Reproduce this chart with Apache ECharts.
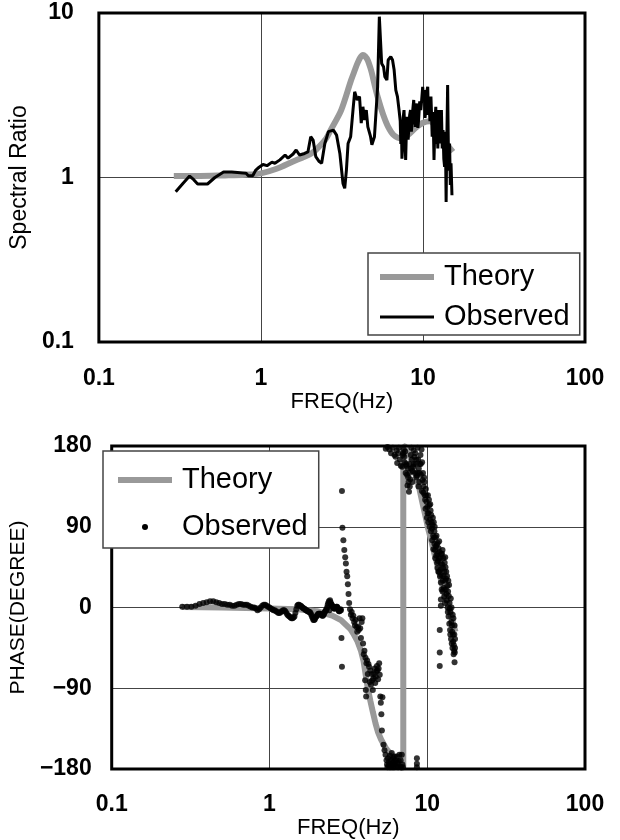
<!DOCTYPE html>
<html>
<head>
<meta charset="utf-8">
<script src="https://cdn.jsdelivr.net/npm/echarts@6/dist/echarts.min.js"></script>
<style>
  html, body { margin: 0; padding: 0; background: #fff; }
  #chart { width: 620px; height: 840px; }
</style>
</head>
<body>
<div id="chart"></div>
<script>
// ---------- Tick labels ----------
const freqTickLabels = ['0.1', '1', '10', '100'];
const ratioTickLabels = ['0.1', '1', '10'];
const phaseTickLabels = ['\u2212180', '\u221290', '0', '90', '180'];

// ---------- Spectral ratio: theory ----------
const ampTheoryFreq = [0.29, 0.4, 0.6, 0.8, 1.0, 1.25, 1.58, 1.8, 2.0, 2.18, 2.5, 2.73, 3.13, 3.6, 3.8, 3.94, 4.1, 4.26, 4.4, 4.57, 4.75, 4.9, 5.05, 5.25, 5.65, 6.1, 6.6, 7.3, 8.0, 9.0, 10.0, 11.0, 12.0, 13.0, 14.0, 15.3];
const ampTheory = [1.02, 1.02, 1.03, 1.04, 1.06, 1.13, 1.25, 1.32, 1.38, 1.47, 1.7, 1.99, 2.57, 3.9, 4.5, 4.94, 5.35, 5.55, 5.45, 5.15, 4.6, 4.1, 3.6, 3.1, 2.45, 2.03, 1.81, 1.73, 1.8, 2.0, 2.15, 2.2, 2.05, 1.8, 1.6, 1.43];

// ---------- Spectral ratio: observed ----------
const ampObsFreq = [0.298, 0.33, 0.363, 0.385, 0.407, 0.468, 0.52, 0.588, 0.66, 0.673, 0.81, 0.836, 0.89, 0.93, 0.97, 1.03, 1.09, 1.17, 1.22, 1.31, 1.41, 1.47, 1.58, 1.65, 1.73, 1.86, 1.95, 2.03, 2.10, 2.18, 2.29, 2.37, 2.48, 2.61, 2.80, 2.93, 3.07, 3.21, 3.29, 3.37, 3.45, 3.58, 3.70, 3.79, 3.93, 4.06, 4.16, 4.26, 4.36, 4.47, 4.57, 4.75, 4.84, 5.02, 5.13, 5.25, 5.38, 5.50, 5.56, 5.71, 5.82, 5.99, 6.10, 6.33, 6.49, 6.64, 6.80, 6.96,
  7.12, 7.24, 7.30, 7.36, 7.42, 7.47, 7.55, 7.64, 7.72, 7.82, 7.90, 8.00, 8.10, 8.19, 8.28, 8.38, 8.48, 8.57, 8.66, 8.77, 8.87, 8.97, 9.08, 9.18, 9.30, 9.40, 9.55, 9.70, 9.83, 9.96, 10.1, 10.2, 10.3, 10.4, 10.55, 10.7, 10.8, 10.9, 11.05, 11.2, 11.3, 11.4, 11.55, 11.7, 11.85, 12.0, 12.1, 12.2, 12.35, 12.5, 12.6, 12.7, 12.85, 13.0, 13.15, 13.3, 13.45, 13.6, 13.75, 13.9, 14.0, 14.2, 14.4, 14.6, 14.75, 14.9, 15.1];
const ampObs = [0.82, 0.92, 1.02, 0.97, 0.913, 0.913, 1.0, 1.08, 1.08, 1.06, 1.06, 1.025, 1.025, 1.11, 1.15, 1.20, 1.18, 1.24, 1.22, 1.28, 1.37, 1.31, 1.39, 1.47, 1.37, 1.40, 1.43, 1.77, 1.69, 1.34, 1.25, 1.22, 1.61, 1.90, 1.94, 1.81, 1.40, 0.92, 0.86, 1.11, 1.61, 1.77, 2.57, 3.32, 2.96, 3.10, 2.14, 2.69, 2.24, 2.57, 2.03, 1.77, 1.58, 1.77, 1.77, 3.56, 9.5, 9.5, 4.94, 4.72, 4.10, 3.91, 5.18, 5.43, 5.18, 4.50, 3.40, 3.10,
  2.57, 2.2, 1.6, 2.14, 1.3, 1.47, 2.3, 2.57, 1.9, 1.28, 1.9, 2.34, 1.7, 2.03, 2.4, 2.57, 1.9, 2.14, 2.6, 2.96, 2.3, 2.03, 2.5, 2.82, 2.0, 2.24, 2.9, 2.57, 3.0, 3.56, 2.9, 3.40, 2.3, 2.57, 3.3, 3.56, 2.4, 2.82, 2.2, 3.10, 2.4, 1.77, 2.5, 1.28, 2.1, 2.69, 1.6, 2.24, 1.5, 2.57, 2.0, 1.61, 2.2, 2.57, 1.5, 1.94, 1.3, 1.16, 1.9, 0.71, 1.4, 3.65, 1.1, 1.61, 0.9, 1.22, 0.78];

// ---------- Phase: theory ----------
const phaseTheoryFreq = [0.28, 0.5, 1.0, 1.5, 2.0, 2.5, 2.84, 3.26, 3.4, 3.6, 3.8, 3.95, 4.05, 4.2, 4.36, 4.53, 4.7, 4.88, 5.1, 5.48, 5.9, 6.3, 6.7, 7.05, 7.05, 7.3, 7.8, 8.4, 8.9, 9.4, 9.8, 10.1, 10.6, 11.1, 11.8, 12.5, 13.1, 13.7, 14.4, 15.1];
const phaseTheory = [0.5, 0, -1, -2, -4, -9, -14, -24, -29, -37, -48, -60, -72, -90, -104, -117, -129, -139, -147, -157, -164, -169, -175, -180, 180, 179, 167, 150, 133, 114, 100, 89, 75, 60, 42, 24, 11, -1, -14, -27];

// ---------- Phase: observed (frequency Hz, degree) ----------
const phaseObsPoints = [
  [0.28,1],[0.30,1],[0.32,1],[0.34,2],[0.36,4],[0.38,5],[0.40,6],[0.42,7],[0.44,7],[0.46,6],[0.48,5],[0.50,4],[0.52,4],[0.54,3],[0.56,3],[0.58,2],[0.60,2],[0.62,3],[0.64,4],[0.66,4],[0.68,3],[0.70,3],[0.72,3],[0.74,2],[0.76,1],[0.78,0],[0.80,0],[0.82,-1],[0.84,-3],[0.86,-2],[0.88,0],[0.90,2],[0.92,3],[0.94,3],[0.96,2],[0.98,1],
  [1.00,0],[1.02,-1],[1.04,-2],[1.06,-3],[1.08,-3],[1.10,-4],[1.12,-5],[1.14,-6],[1.16,-6],[1.18,-5],[1.20,-4],[1.22,-3],[1.24,-3],[1.26,-4],[1.28,-6],[1.30,-8],[1.32,-9],[1.34,-10],[1.36,-11],[1.38,-12],[1.40,-12],[1.42,-11],[1.44,-10],[1.46,-6],[1.48,-2],[1.50,2],[1.52,3],[1.54,3],[1.56,2],[1.58,2],[1.60,1],[1.62,0],[1.64,-1],[1.66,-1],[1.68,-2],[1.70,-3],[1.72,-3],[1.74,-4],[1.76,-4],[1.78,-5],[1.80,-5],[1.82,-6],[1.84,-8],[1.86,-10],[1.88,-12],[1.90,-14],[1.92,-14],[1.94,-13],[1.96,-11],[1.98,-10],
  [2.00,-9],[2.02,-8],[2.04,-7],[2.06,-7],[2.08,-7],[2.10,-7],[2.12,-8],[2.14,-8],[2.16,-9],[2.18,-9],[2.20,-8],[2.22,-7],[2.24,-5],[2.26,-4],[2.28,-3],[2.30,-2],[2.32,0],[2.34,3],[2.36,5],[2.38,7],[2.40,-3],[2.42,8],[2.44,6],[2.46,4],[2.48,3],[2.50,2],[2.52,1],[2.54,0],[2.56,-1],[2.58,-1],[2.60,-1],[2.62,0],[2.64,0],[2.66,1],[2.68,1],[2.70,0],[2.72,-2],[2.74,-3],[2.76,-4],[2.78,-4],[2.80,-3],[2.82,-2],[2.84,-3],
  [2.88,130],[2.90,89],[2.94,75],[2.98,64],[3.02,56],[3.05,49],[3.08,40],[3.11,35],[3.14,26],[3.17,15],[3.20,5],[2.86,-34],[2.88,-66],
  [3.24,-2],[3.28,-8],[3.32,-5],[3.36,-12],[3.40,-9],[3.44,-16],[3.48,-20],[3.52,-14],[3.56,-22],[3.60,-27],[3.64,-21],[3.68,-25],[3.72,-12],[3.76,-23],[3.80,-34],[3.84,-16],[3.88,-12],[3.92,-40],[3.96,-52],[4.00,-48],[4.04,-81],[4.06,-56],[4.08,-92],[4.10,-99],[4.12,-62],[4.16,-59],[4.20,-74],[4.24,-63],[4.28,-66],[4.32,-83],[4.36,-70],[4.40,-86],[4.44,-74],[4.48,-81],[4.52,-92],[4.56,-79],[4.60,-74],[4.64,-68],[4.68,-84],[4.72,-77],[4.76,-71],[4.80,-65],[4.84,-70],[4.88,-80],[4.92,-68],[4.96,-62],[5.00,-75],[5.04,-99],[5.08,-106],[5.12,-119],[5.16,-137],[5.20,-100],
  [5.28,-153],[5.36,-159],[5.44,-164],[5.52,-170],[5.56,-175],[5.60,-178],[5.64,-168],[5.68,-176],[5.72,-172],[5.76,-178],[5.80,-165],[5.84,-174],[5.88,-178],[5.92,-170],[5.96,-162],[6.00,-175],[6.04,-178],[6.08,-168],[6.12,-172],[6.16,-178],[6.20,-166],[6.24,-174],[6.30,-171],[6.36,-177],[6.42,-166],[6.48,-173],[6.54,-178],[6.60,-171],[6.66,-164],[6.72,-177],[6.78,-170],[6.84,-178],[6.90,-164],[6.96,-175],[7.02,-178],
  [8.60,-168],[8.60,-174],[8.60,-178],
  [5.46,177],[5.60,179],[5.76,176],[5.90,172],[6.05,178],[6.20,170],[6.30,168],[6.40,175],[6.45,161],[6.55,172],[6.60,178],[6.70,165],[6.80,158],[6.93,157],[7.00,170],[7.05,172],[7.10,176],[7.15,168],[7.20,162],[7.25,174],[7.30,150],[7.35,160],[7.40,158],[7.45,148],[7.50,136],[7.55,155],[7.58,145],[7.62,140],[7.66,129],[7.70,150],[7.72,160],[7.75,135],[7.80,143],[7.86,170],[7.90,155],[7.94,178],
  [8.00,165],[8.05,140],[8.08,152],[8.14,157],[8.20,175],[8.25,160],[8.30,168],[8.35,150],[8.40,172],[8.46,160],[8.52,145],[8.55,165],[8.60,147],[8.68,178],[8.70,150],[8.76,165],[8.80,135],[8.84,155],[8.90,140],[8.95,150],[8.98,160],[9.06,170],[9.10,160],[9.12,148],[9.20,176],[9.25,130],[9.28,162],[9.34,142],[9.40,150],[9.45,128],[9.50,135],[9.55,145],[9.60,140],[9.65,125],[9.70,120],[9.75,110],[9.80,132],[9.85,125],[9.90,118],[9.95,100],
  [10.0,112],[10.05,105],[10.1,125],[10.15,95],[10.2,105],[10.25,120],[10.3,114],[10.35,90],[10.4,98],[10.45,115],[10.5,108],[10.55,85],[10.6,103],[10.65,95],[10.7,88],[10.75,75],[10.8,92],[10.85,100],[10.9,80],[10.95,65],[11.0,95],[11.05,78],[11.1,85],[11.1,71],[11.15,90],[11.2,64],[11.25,55],[11.3,78],[11.35,68],[11.4,58],[11.45,80],[11.5,70],[11.55,50],[11.6,60],[11.6,44],[11.65,72],[11.7,52],[11.75,40],[11.8,66],[11.85,55],[11.9,74],[11.9,40],[11.95,62],
  [12.0,-25],[12.0,-50],[12.0,-65],[12.05,35],[12.1,55],[12.15,42],[12.2,49],[12.2,28],[12.2,9],[12.2,2],[12.25,60],[12.3,36],[12.35,20],[12.4,60],[12.45,48],[12.5,64],[12.5,18],[12.55,30],[12.6,44],[12.65,55],[12.7,35],[12.75,22],[12.8,12],[12.85,40],[12.9,50],[12.95,5],[13.0,56],[13.0,30],[13.05,45],[13.1,20],[13.15,32],[13.2,40],[13.25,15],[13.3,8],[13.35,35],[13.4,24],[13.45,0],[13.5,-5],[13.55,18],[13.6,30],[13.65,-10],[13.7,13],[13.75,25],[13.8,-18],[13.85,5],[13.9,-1],[13.95,-25],
  [14.0,-30],[14.05,-5],[14.1,10],[14.15,-35],[14.2,-16],[14.25,0],[14.3,-40],[14.35,-20],[14.4,-27],[14.45,-45],[14.5,-8],[14.55,-30],[14.6,-38],[14.65,-12],[14.7,-52],[14.75,-42],[14.8,-48],[14.85,-30],[14.9,-20],[14.9,-61],[14.95,-50],[15.0,-35],[15.0,-45]
];

// ---------- Build chart ----------
const FONT = "'Liberation Sans', Arial, sans-serif";
const zip = (xs, ys) => xs.map((x, i) => [x, ys[i]]);

const gridLine = { show: true, lineStyle: { color: '#444', width: 1 } };
const tickFont = { fontSize: 23, fontWeight: 'bold', color: '#000', fontFamily: FONT };

const chart = echarts.init(document.getElementById('chart'), null, { renderer: 'canvas' });
chart.setOption({
  animation: false,
  backgroundColor: '#fff',
  textStyle: { fontFamily: FONT, color: '#000' },
  grid: [
    { left: 83, top: 13, width: 502, height: 329, show: true, borderColor: '#000', borderWidth: 3, z: 10, backgroundColor: 'transparent' },
    { left: 97, top: 446, width: 488, height: 332, show: true, borderColor: '#000', borderWidth: 3, z: 10, backgroundColor: 'transparent' }
  ],
  xAxis: [
    {
      type: 'log', logBase: 10, gridIndex: 0, min: 0.1, max: 100,
      axisLine: { show: false }, axisTick: { show: false }, splitLine: gridLine,
      axisLabel: Object.assign({ margin: 25, formatter: (v, i) => freqTickLabels[i] }, tickFont),
      name: 'FREQ(Hz)', nameLocation: 'middle', nameGap: 39,
      nameTextStyle: { fontSize: 22, color: '#000', fontFamily: FONT }
    },
    {
      type: 'log', logBase: 10, gridIndex: 1, min: 0.1, max: 100,
      axisLine: { show: false }, axisTick: { show: false }, splitLine: gridLine,
      axisLabel: Object.assign({ margin: 24, formatter: (v, i) => freqTickLabels[i] }, tickFont),
      name: 'FREQ(Hz)', nameLocation: 'middle', nameGap: 37,
      nameTextStyle: { fontSize: 22, color: '#000', fontFamily: FONT }
    }
  ],
  yAxis: [
    {
      type: 'log', logBase: 10, gridIndex: 0, min: 0.1, max: 10,
      axisLine: { show: false }, axisTick: { show: false }, splitLine: gridLine,
      axisLabel: Object.assign({ margin: 25, formatter: (v, i) => ratioTickLabels[i] }, tickFont),
      name: 'Spectral Ratio', nameLocation: 'middle', nameGap: 42,
      nameTextStyle: { fontSize: 23, color: '#000', fontFamily: FONT }
    },
    {
      type: 'value', gridIndex: 1, min: -180, max: 180, interval: 90,
      axisLine: { show: false }, axisTick: { show: false }, splitLine: gridLine,
      axisLabel: Object.assign({ margin: 20, formatter: (v, i) => phaseTickLabels[i] }, tickFont),
      name: 'PHASE(DEGREE)', nameLocation: 'middle', nameGap: 58,
      nameTextStyle: { fontSize: 21, color: '#000', fontFamily: FONT }
    }
  ],
  legend: [
    {
      orient: 'vertical', left: 368, top: 253, selectedMode: false,
      padding: [8, 10, 2, 9], itemGap: 8, itemWidth: 54, itemHeight: 5,
      borderColor: '#444', borderWidth: 1.5, backgroundColor: '#fff', z: 20,
      textStyle: { fontSize: 29, lineHeight: 32, color: '#000', fontFamily: FONT, padding: [0, 0, 0, 5] },
      data: [
        { name: 'Theory', lineStyle: { width: 6 }, itemStyle: { opacity: 0 } },
        { name: 'Observed', lineStyle: { width: 3 }, itemStyle: { opacity: 0 } }
      ]
    },
    {
      orient: 'vertical', left: 103, top: 451, selectedMode: false,
      padding: [13, 11, 5, 15], itemGap: 15, itemWidth: 54, itemHeight: 6,
      borderColor: '#444', borderWidth: 1.5, backgroundColor: '#fff', z: 20,
      textStyle: { fontSize: 29, lineHeight: 32, color: '#000', fontFamily: FONT, padding: [0, 0, 0, 5] },
      data: [
        { name: 'Theory', icon: 'rect', itemStyle: { color: '#999' } },
        { name: 'Observed', icon: 'circle', itemStyle: { color: '#000' } }
      ]
    }
  ],
  series: [
    {
      name: 'Theory', type: 'line', xAxisIndex: 0, yAxisIndex: 0,
      data: zip(ampTheoryFreq, ampTheory), showSymbol: false, symbol: 'none',
      smooth: 0.3, lineStyle: { color: '#999', width: 6 }, itemStyle: { color: '#999' }, z: 2
    },
    {
      name: 'Observed', type: 'line', xAxisIndex: 0, yAxisIndex: 0,
      data: zip(ampObsFreq, ampObs), showSymbol: false, symbol: 'none',
      lineStyle: { color: '#000', width: 3 }, itemStyle: { color: '#000' }, z: 3
    },
    {
      name: 'Theory', type: 'line', xAxisIndex: 1, yAxisIndex: 1,
      data: zip(phaseTheoryFreq, phaseTheory), showSymbol: false, symbol: 'none',
      lineStyle: { color: '#999', width: 6 }, itemStyle: { color: '#999' }, z: 2
    },
    {
      name: 'Observed', type: 'scatter', xAxisIndex: 1, yAxisIndex: 1,
      data: phaseObsPoints, symbol: 'circle', symbolSize: 6,
      itemStyle: { color: '#000' }, z: 3
    }
  ]
});
</script>
</body>
</html>
